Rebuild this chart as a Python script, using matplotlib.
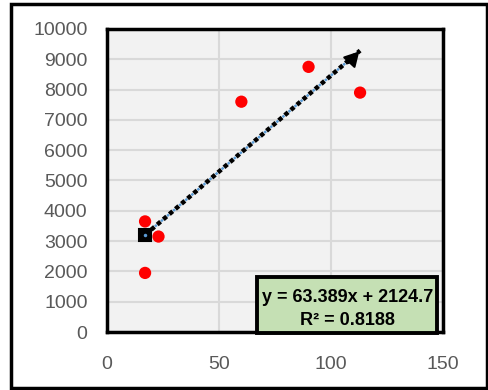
import matplotlib.pyplot as plt
import numpy as np
from matplotlib.patches import Rectangle

plt.rcParams['font.family'] = ['Liberation Sans', 'DejaVu Sans']

# data
x = [17, 23, 17, 60, 90, 113]
y = [3650, 3150, 1950, 7600, 8750, 7900]
slope = 63.389
intercept = 2124.7
r2 = 0.8188
xticks = [0, 50, 100, 150]
yticks = list(range(0, 10001, 1000))

fig = plt.figure(figsize=(4.89, 3.90), dpi=100)
ax = fig.add_axes([0.2188, 0.1487, 0.687, 0.777])

ax.set_facecolor('#F2F2F2')
ax.set_xlim(0, 150)
ax.set_ylim(0, 10000)
ax.set_xticks(xticks)
ax.set_yticks(yticks)
ax.grid(color='#D9D9D9', lw=1.5)
ax.set_axisbelow(True)
ax.tick_params(length=0, labelsize=14, labelcolor='#595959')
ax.tick_params(axis='y', pad=14)
ax.tick_params(axis='x', pad=17)
for s in ax.spines.values():
    s.set_linewidth(2.5)
    s.set_color('black')

ax.scatter(x, y, s=78, color='#FF0000', zorder=3, edgecolors='none')

# trend line from min to max x
xt = np.array([min(x), max(x)])
yt = slope * xt + intercept
ax.plot(xt, yt, color='black', lw=3.2, ls=(0, (1, 0.8)), zorder=4,
        dash_capstyle='butt')
ax.plot(xt, yt, color='#5B9BD5', lw=1.8, ls=(1.21, (1, 2.2)), zorder=5,
        dash_capstyle='butt')
ax.annotate('', xy=(xt[1] + 0.5, yt[1] + 40), xytext=(xt[1] - 6, yt[1] - 480),
            arrowprops=dict(arrowstyle='-|>,head_length=0.9,head_width=0.5',
                            color='black', lw=1.5), zorder=6)
ax.plot(xt[0], yt[0], marker='s', ms=8, mfc='black', mec='black', mew=1.5, zorder=6)
ax.plot(xt[0], yt[0], marker='o', ms=2.5, mfc='#5B9BD5', mec='none', zorder=7)

# equation box
ax.add_patch(Rectangle((67, -40), 80.3, 1855, fc='#C5E0B4', ec='black', lw=2.8,
                       zorder=7, clip_on=False))
ax.text(107.3, 1150, f'y = {slope}x + {intercept}', ha='center', va='center',
        fontsize=13, fontweight='bold', zorder=8)
ax.text(107.3, 390, f'R² = {r2}', ha='center', va='center',
        fontsize=13, fontweight='bold', zorder=8)

# outer chart border
fig.patches.append(Rectangle((0.022, 0.006), 0.973, 0.985, transform=fig.transFigure,
                             fill=False, ec='black', lw=2.5))

plt.savefig('out.png', dpi=100)
